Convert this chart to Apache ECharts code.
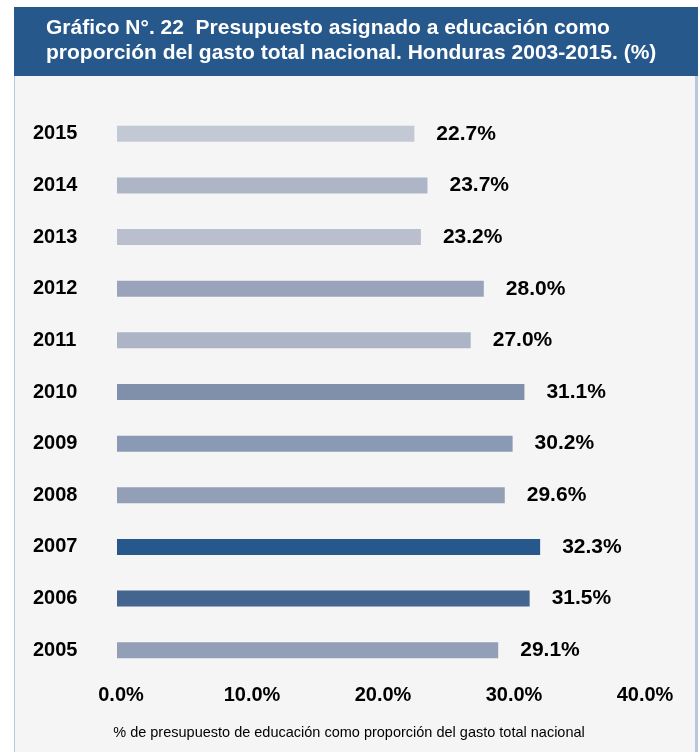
<!DOCTYPE html>
<html>
<head>
<meta charset="utf-8">
<script src="https://cdn.jsdelivr.net/npm/echarts@6/dist/echarts.min.js"></script>
<style>
html,body{margin:0;padding:0;background:#ffffff;}
#chart{width:698px;height:752px;}
</style>
</head>
<body>
<div id="chart"></div>
<script>
// ---- Data ----
var years = ['2005','2006','2007','2008','2009','2010','2011','2012','2013','2014','2015'];
var values = [29.1, 31.5, 32.3, 29.6, 30.2, 31.1, 27.0, 28.0, 23.2, 23.7, 22.7];
var xTicks = [0, 10, 20, 30, 40];
var titleLines = ['Gráfico N°. 22  Presupuesto asignado a educación como',
                  'proporción del gasto total nacional. Honduras 2003-2015. (%)'];
var footnote = '% de presupuesto de educación como proporción del gasto total nacional';

// ---- Styles ----
var barColors = ['#939EB7','#436590','#27588C','#939EB7','#8B9AB4','#8090AB',
                 '#ACB4C6','#9AA3BA','#B9BFCE','#AEB5C7','#C3C8D5'];
var FONT = '"Liberation Sans", Arial, sans-serif';

var chart = echarts.init(document.getElementById('chart'), null, {renderer:'canvas'});
chart.setOption({
  backgroundColor: '#ffffff',
  animation: false,
  graphic: [
    { type:'rect', left:14, top:76, shape:{width:684, height:676}, style:{fill:'#B7C7DC'}, z:-10 },
    { type:'rect', left:15, top:76, shape:{width:680, height:676}, style:{fill:'#F5F5F5'}, z:-9 },
    { type:'rect', left:14, top:7, shape:{width:684, height:69}, style:{fill:'#27588C'}, z:-8 },
    { type:'text', left:46, top:16, z:10,
      style:{ text: titleLines.join('\n'), fill:'#ffffff', font:'bold 21px ' + FONT, lineHeight:25 } },
    { type:'text', left:'center', top:725, z:10,
      style:{ text: footnote, fill:'#000000', font:'14.5px ' + FONT } }
  ],
  grid: { left:117, right:57, top:108, bottom:76, containLabel:false },
  xAxis: {
    type:'value', min:xTicks[0], max:xTicks[xTicks.length-1], interval:10,
    axisLine:{show:false}, axisTick:{show:false}, splitLine:{show:false},
    axisLabel:{ margin:9, color:'#000', fontFamily:FONT, fontWeight:'bold', fontSize:20,
      padding:[0,0,0,8],
      formatter:function(v){ return v.toFixed(1) + '%'; } }
  },
  yAxis: {
    type:'category', data:years,
    axisLine:{show:false}, axisTick:{show:false}, splitLine:{show:false},
    axisLabel:{ align:'left', margin:84, color:'#000', fontFamily:FONT, fontWeight:'bold', fontSize:20 }
  },
  series: [{
    type:'bar', barWidth:16,
    data: values.map(function(v,i){ return { value:v, itemStyle:{ color:barColors[i] } }; }),
    label:{ show:true, position:'right', distance:22, color:'#000', fontFamily:FONT,
      fontWeight:'bold', fontSize:21, formatter:function(p){ return p.value.toFixed(1) + '%'; } }
  }]
});
</script>
</body>
</html>
